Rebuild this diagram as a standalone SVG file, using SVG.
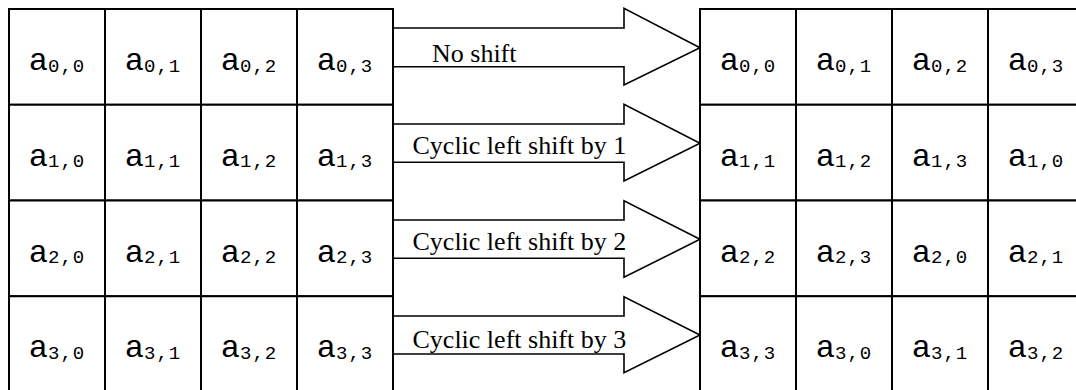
<svg xmlns="http://www.w3.org/2000/svg" width="1076" height="390" viewBox="0 0 1076 390">
<style>
.cell{fill:#fff;stroke:#000;stroke-width:2}
.v{font-family:"Liberation Mono","Courier New",monospace;fill:#000;text-anchor:middle}
.a{font-size:32px}
.s{font-size:19px;letter-spacing:1px}
.arrow{fill:#fff;stroke:#000;stroke-width:1.6;stroke-linejoin:miter}
.lbl{font-family:"Liberation Serif","Times New Roman",serif;font-size:26px;fill:#000}
</style>
<rect width="1076" height="390" fill="#fff"/>
<g id="connectors">
<polygon class="arrow" points="393,28 624,28 624,8.3 700,47.7 624,85 624,66.7 393,66.7"/>
<polygon class="arrow" points="393,124 624,124 624,104.3 700,143.3 624,181 624,162.3 393,162.3"/>
<polygon class="arrow" points="393,220 624,220 624,200.7 700,239.3 624,277.3 624,258.3 393,258.3"/>
<polygon class="arrow" points="393,316 624,316 624,296.7 700,335 624,372.7 624,354 393,354"/>
<text class="lbl" x="432" y="61.7">No shift</text>
<text class="lbl" x="412.5" y="154">Cyclic left shift by 1</text>
<text class="lbl" x="412.5" y="250">Cyclic left shift by 2</text>
<text class="lbl" x="412.5" y="348">Cyclic left shift by 3</text>
</g>
<g id="L00"><rect class="cell" x="9" y="9" width="96" height="95.75"/><text class="v" x="57" y="70"><tspan class="a">a</tspan><tspan class="s" dy="1.5">0,0</tspan></text></g>
<g id="L01"><rect class="cell" x="105" y="9" width="96" height="95.75"/><text class="v" x="153" y="70"><tspan class="a">a</tspan><tspan class="s" dy="1.5">0,1</tspan></text></g>
<g id="L02"><rect class="cell" x="201" y="9" width="96" height="95.75"/><text class="v" x="249" y="70"><tspan class="a">a</tspan><tspan class="s" dy="1.5">0,2</tspan></text></g>
<g id="L03"><rect class="cell" x="297" y="9" width="96" height="95.75"/><text class="v" x="345" y="70"><tspan class="a">a</tspan><tspan class="s" dy="1.5">0,3</tspan></text></g>
<g id="L10"><rect class="cell" x="9" y="104.75" width="96" height="95.75"/><text class="v" x="57" y="165.75"><tspan class="a">a</tspan><tspan class="s" dy="1.5">1,0</tspan></text></g>
<g id="L11"><rect class="cell" x="105" y="104.75" width="96" height="95.75"/><text class="v" x="153" y="165.75"><tspan class="a">a</tspan><tspan class="s" dy="1.5">1,1</tspan></text></g>
<g id="L12"><rect class="cell" x="201" y="104.75" width="96" height="95.75"/><text class="v" x="249" y="165.75"><tspan class="a">a</tspan><tspan class="s" dy="1.5">1,2</tspan></text></g>
<g id="L13"><rect class="cell" x="297" y="104.75" width="96" height="95.75"/><text class="v" x="345" y="165.75"><tspan class="a">a</tspan><tspan class="s" dy="1.5">1,3</tspan></text></g>
<g id="L20"><rect class="cell" x="9" y="200.5" width="96" height="95.75"/><text class="v" x="57" y="261.5"><tspan class="a">a</tspan><tspan class="s" dy="1.5">2,0</tspan></text></g>
<g id="L21"><rect class="cell" x="105" y="200.5" width="96" height="95.75"/><text class="v" x="153" y="261.5"><tspan class="a">a</tspan><tspan class="s" dy="1.5">2,1</tspan></text></g>
<g id="L22"><rect class="cell" x="201" y="200.5" width="96" height="95.75"/><text class="v" x="249" y="261.5"><tspan class="a">a</tspan><tspan class="s" dy="1.5">2,2</tspan></text></g>
<g id="L23"><rect class="cell" x="297" y="200.5" width="96" height="95.75"/><text class="v" x="345" y="261.5"><tspan class="a">a</tspan><tspan class="s" dy="1.5">2,3</tspan></text></g>
<g id="L30"><rect class="cell" x="9" y="296.25" width="96" height="95.75"/><text class="v" x="57" y="357.25"><tspan class="a">a</tspan><tspan class="s" dy="1.5">3,0</tspan></text></g>
<g id="L31"><rect class="cell" x="105" y="296.25" width="96" height="95.75"/><text class="v" x="153" y="357.25"><tspan class="a">a</tspan><tspan class="s" dy="1.5">3,1</tspan></text></g>
<g id="L32"><rect class="cell" x="201" y="296.25" width="96" height="95.75"/><text class="v" x="249" y="357.25"><tspan class="a">a</tspan><tspan class="s" dy="1.5">3,2</tspan></text></g>
<g id="L33"><rect class="cell" x="297" y="296.25" width="96" height="95.75"/><text class="v" x="345" y="357.25"><tspan class="a">a</tspan><tspan class="s" dy="1.5">3,3</tspan></text></g>
<g id="R00"><rect class="cell" x="700" y="9" width="96" height="95.75"/><text class="v" x="748" y="70"><tspan class="a">a</tspan><tspan class="s" dy="1.5">0,0</tspan></text></g>
<g id="R01"><rect class="cell" x="796" y="9" width="96" height="95.75"/><text class="v" x="844" y="70"><tspan class="a">a</tspan><tspan class="s" dy="1.5">0,1</tspan></text></g>
<g id="R02"><rect class="cell" x="892" y="9" width="96" height="95.75"/><text class="v" x="940" y="70"><tspan class="a">a</tspan><tspan class="s" dy="1.5">0,2</tspan></text></g>
<g id="R03"><rect class="cell" x="988" y="9" width="96" height="95.75"/><text class="v" x="1036" y="70"><tspan class="a">a</tspan><tspan class="s" dy="1.5">0,3</tspan></text></g>
<g id="R10"><rect class="cell" x="700" y="104.75" width="96" height="95.75"/><text class="v" x="748" y="165.75"><tspan class="a">a</tspan><tspan class="s" dy="1.5">1,1</tspan></text></g>
<g id="R11"><rect class="cell" x="796" y="104.75" width="96" height="95.75"/><text class="v" x="844" y="165.75"><tspan class="a">a</tspan><tspan class="s" dy="1.5">1,2</tspan></text></g>
<g id="R12"><rect class="cell" x="892" y="104.75" width="96" height="95.75"/><text class="v" x="940" y="165.75"><tspan class="a">a</tspan><tspan class="s" dy="1.5">1,3</tspan></text></g>
<g id="R13"><rect class="cell" x="988" y="104.75" width="96" height="95.75"/><text class="v" x="1036" y="165.75"><tspan class="a">a</tspan><tspan class="s" dy="1.5">1,0</tspan></text></g>
<g id="R20"><rect class="cell" x="700" y="200.5" width="96" height="95.75"/><text class="v" x="748" y="261.5"><tspan class="a">a</tspan><tspan class="s" dy="1.5">2,2</tspan></text></g>
<g id="R21"><rect class="cell" x="796" y="200.5" width="96" height="95.75"/><text class="v" x="844" y="261.5"><tspan class="a">a</tspan><tspan class="s" dy="1.5">2,3</tspan></text></g>
<g id="R22"><rect class="cell" x="892" y="200.5" width="96" height="95.75"/><text class="v" x="940" y="261.5"><tspan class="a">a</tspan><tspan class="s" dy="1.5">2,0</tspan></text></g>
<g id="R23"><rect class="cell" x="988" y="200.5" width="96" height="95.75"/><text class="v" x="1036" y="261.5"><tspan class="a">a</tspan><tspan class="s" dy="1.5">2,1</tspan></text></g>
<g id="R30"><rect class="cell" x="700" y="296.25" width="96" height="95.75"/><text class="v" x="748" y="357.25"><tspan class="a">a</tspan><tspan class="s" dy="1.5">3,3</tspan></text></g>
<g id="R31"><rect class="cell" x="796" y="296.25" width="96" height="95.75"/><text class="v" x="844" y="357.25"><tspan class="a">a</tspan><tspan class="s" dy="1.5">3,0</tspan></text></g>
<g id="R32"><rect class="cell" x="892" y="296.25" width="96" height="95.75"/><text class="v" x="940" y="357.25"><tspan class="a">a</tspan><tspan class="s" dy="1.5">3,1</tspan></text></g>
<g id="R33"><rect class="cell" x="988" y="296.25" width="96" height="95.75"/><text class="v" x="1036" y="357.25"><tspan class="a">a</tspan><tspan class="s" dy="1.5">3,2</tspan></text></g>
</svg>
